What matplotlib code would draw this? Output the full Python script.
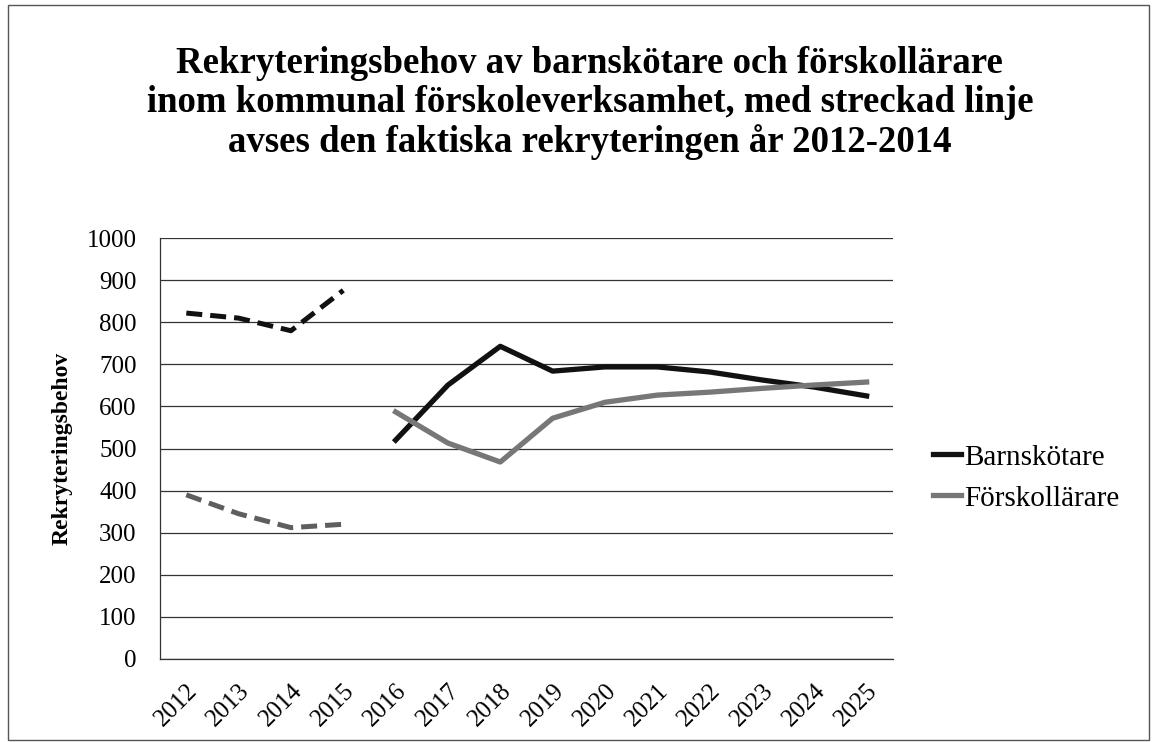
import matplotlib.pyplot as plt
from matplotlib.patches import Rectangle

plt.rcParams['font.family'] = ['Liberation Serif', 'DejaVu Serif']

years = ['2012', '2013', '2014', '2015', '2016', '2017', '2018', '2019',
         '2020', '2021', '2022', '2023', '2024', '2025']

# faktisk rekrytering (streckad), 2012-2015
barn_faktisk = [822, 810, 780, 876]
forsk_faktisk = [390, 345, 312, 320]

# rekryteringsbehov (heldragen), 2016-2025
barn_behov = [520, 651, 743, 684, 694, 694, 682, 663, 646, 625]
forsk_behov = [587, 513, 468, 572, 610, 627, 634, 643, 651, 658]

fig = plt.figure(figsize=(11.52, 7.42), dpi=100)
ax = fig.add_axes([0.139, 0.112, 0.636, 0.567])

x = list(range(len(years)))
ax.plot(x[:4], barn_faktisk, color='#111111', lw=3.6, ls=(0, (3.2, 1.6)))
ax.plot(x[:4], forsk_faktisk, color='#5e5e5e', lw=3.6, ls=(0, (3.2, 1.6)))
ax.plot(x[4:], barn_behov, color='#111111', lw=3.8, label='Barnskötare')
ax.plot(x[4:], forsk_behov, color='#777777', lw=3.8, label='Förskollärare')

ax.set_xlim(-0.5, len(years) - 0.5)
ax.set_ylim(0, 1000)
ax.set_yticks(range(0, 1001, 100))
ax.set_xticks(x)
ax.set_xticklabels(years, rotation=45, ha='right', rotation_mode='anchor')
ax.tick_params(length=0, labelsize=18)
ax.tick_params(axis='y', pad=17)
ax.tick_params(axis='x', pad=15)
ax.yaxis.grid(True, color='#333333', lw=0.9)
ax.set_axisbelow(True)
for s in ['top', 'right']:
    ax.spines[s].set_visible(False)
for s in ['left', 'bottom']:
    ax.spines[s].set_color('#333333')
    ax.spines[s].set_linewidth(0.9)

ax.set_ylabel('Rekryteringsbehov', fontsize=17, fontweight='bold', labelpad=10)

fig.text(0.512, 0.861, 'Rekryteringsbehov av barnskötare och förskollärare\n'
         'inom kommunal förskoleverksamhet, med streckad linje\n'
         'avses den faktiska rekryteringen år 2012-2014',
         ha='center', va='center', fontsize=26.5, fontweight='bold', linespacing=1.15)

ax.legend(loc='center left', bbox_to_anchor=(1.055, 0.43), frameon=False,
          fontsize=21, handlelength=0.95, handletextpad=0.1, labelspacing=0.5,
          borderaxespad=0, borderpad=0)

fig.patches.append(Rectangle((0.007, 0.003), 0.99, 0.99, transform=fig.transFigure,
                             fill=False, ec='#555555', lw=1))

plt.savefig('out.png', dpi=100)
